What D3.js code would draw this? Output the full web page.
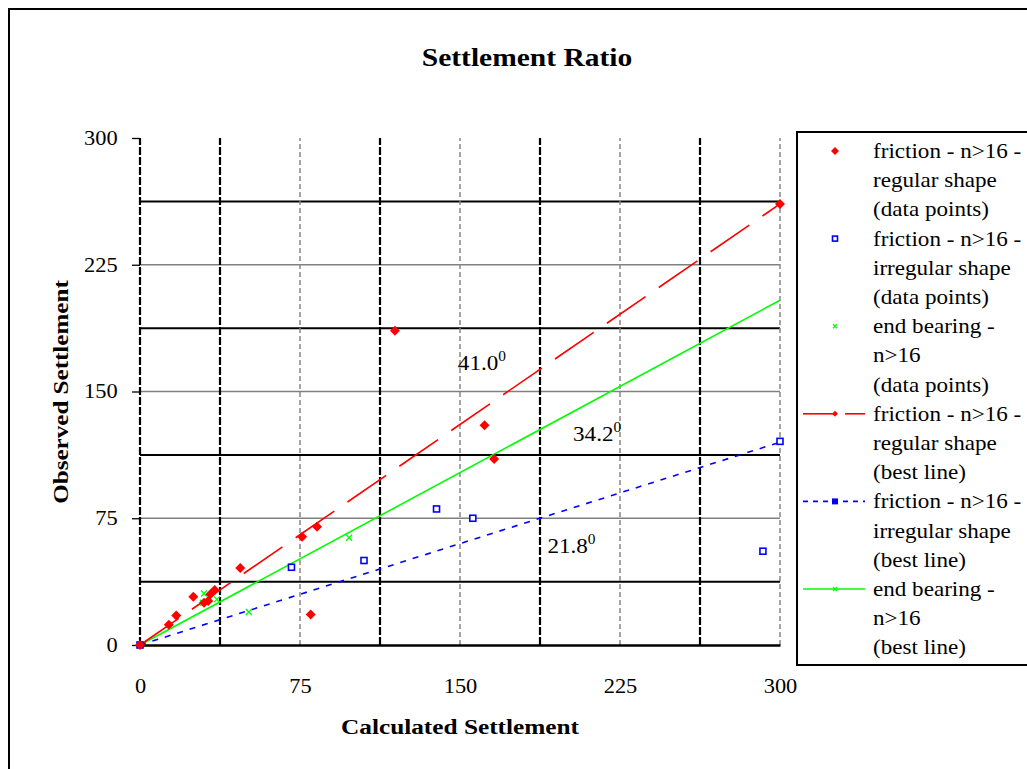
<!DOCTYPE html>
<html>
<head>
<meta charset="utf-8">
<script src="https://cdn.jsdelivr.net/npm/d3@7"></script>
<style>
  body { margin: 0; background: #fff; }
  svg { display: block; font-family: "Liberation Serif", "Times New Roman", serif; }
</style>
</head>
<body>
<script>
// donnees
const frictionRegular = [[0, 0], [13.5, 12], [17, 17.5], [25, 28.5], [30, 25], [32, 26], [33, 30], [35, 32.5],
  [47, 45.5], [76, 64], [80, 18], [83, 70], [119.5, 186], [161.5, 130], [166, 110], [300, 261]];
const frictionIrregular = [[0, 0], [71, 46], [105, 50], [139, 80.5], [156, 75], [292, 55.5], [300, 120.5]];
const endBearing = [[0, 0], [29.5, 25], [30, 30.5], [36, 27], [51, 19.5], [98, 63.5]];

// droites de meilleur ajustement (extremites)
const lineRegular = [[0, 0], [300, 261]];
const lineIrregular = [[0, 0], [300, 120]];
const lineEndBearing = [[0, 0], [300, 204]];

const angleLabels = [
  { x: 149, y: 163, txt: "41.0" },
  { x: 203, y: 121, txt: "34.2" },
  { x: 191, y: 54.5, txt: "21.8" }
];

const majorTicks = [0, 75, 150, 225, 300];
const gridValues = [0, 37.5, 75, 112.5, 150, 187.5, 225, 262.5, 300];

const legendLabels = [
  ["friction - n>16 -", "regular shape", "(data points)"],
  ["friction - n>16 -", "irregular shape", "(data points)"],
  ["end bearing -", "n>16", "(data points)"],
  ["friction - n>16 -", "regular shape", "(best line)"],
  ["friction - n>16 -", "irregular shape", "(best line)"],
  ["end bearing -", "n>16", "(best line)"]
];

const width = 1027, height = 769;
const svg = d3.select("body").append("svg").attr("width", width).attr("height", height);

// texte un peu etire en largeur comme dans l'original
function texte(g, px, py, str, size, k, anchor) {
  return g.append("text").attr("transform", "translate(" + px + "," + py + ") scale(" + k + ",1)")
    .attr("font-size", size).attr("text-anchor", anchor || "start").text(str);
}

// cadre exterieur
svg.append("path").attr("d", "M9,780 L9,9 L1040,9").attr("fill", "none").attr("stroke", "#000").attr("stroke-width", 2);

const x = d3.scaleLinear().domain([0, 300]).range([140, 780]);
const y = d3.scaleLinear().domain([0, 300]).range([645, 138]);

texte(svg, 527, 66, "Settlement Ratio", 25, 1.18, "middle").attr("font-weight", "bold");

// grille
let gridH = svg.append("g");
gridValues.filter(v => v > 0 && v < 300).forEach((v, i) => {
  let odd = (v / 37.5) % 2 == 1;
  gridH.append("line").attr("x1", x(0)).attr("x2", x(300)).attr("y1", y(v)).attr("y2", y(v))
    .attr("stroke", odd ? "#000" : "#808080").attr("stroke-width", odd ? 2 : 1.3);
});
let gridV = svg.append("g");
gridValues.forEach((v) => {
  let odd = (v / 37.5) % 2 == 1 || v == 0;
  gridV.append("line").attr("x1", x(v)).attr("x2", x(v)).attr("y1", y(0)).attr("y2", y(300))
    .attr("stroke", odd ? "#000" : "#888").attr("stroke-width", odd ? 2.2 : 1.5)
    .attr("stroke-dasharray", odd ? "8,2" : "5,3");
});

// axes
let axeY = svg.append("g").attr("transform", "translate(" + x(0) + ",0)")
  .call(d3.axisLeft(y).tickValues(majorTicks).tickSize(8).tickPadding(12).tickFormat(d3.format("d")));
let axeX = svg.append("g").attr("transform", "translate(0," + y(0) + ")")
  .call(d3.axisBottom(x).tickValues(majorTicks).tickSize(0).tickPadding(34).tickFormat(d3.format("d")));
axeY.select(".domain").remove();
axeX.select(".domain").attr("stroke-width", 2.5);
svg.selectAll(".tick text").attr("font-size", 20).attr("font-family", "Liberation Serif").attr("fill", "#000")
  .attr("transform", "scale(1.12,1)");
axeY.selectAll(".tick line").attr("stroke-width", 1.3);

texte(svg, 460, 734, "Calculated Settlement", 22, 1.15, "middle").attr("font-weight", "bold");
svg.append("text").attr("transform", "translate(68,392) rotate(-90) scale(1.14,1)").attr("text-anchor", "middle")
  .attr("font-size", 22).attr("font-weight", "bold").text("Observed Settlement");

// droites
const ligne = d3.line().x(d => x(d[0])).y(d => y(d[1]));
svg.append("path").datum(lineEndBearing).attr("d", ligne).attr("fill", "none")
  .attr("stroke", "#00ff00").attr("stroke-width", 1.6);
svg.append("path").datum(lineIrregular).attr("d", ligne).attr("fill", "none")
  .attr("stroke", "#0000ff").attr("stroke-width", 1.6).attr("stroke-dasharray", "6,7");
svg.append("path").datum(lineRegular).attr("d", ligne).attr("fill", "none")
  .attr("stroke", "#ff0000").attr("stroke-width", 1.6).attr("stroke-dasharray", "47,16");

// symboles
function diamant(g, cx, cy, s) {
  g.append("path").attr("d", "M" + cx + "," + (cy - s) + " L" + (cx + s) + "," + cy + " L" + cx + "," + (cy + s) + " L" + (cx - s) + "," + cy + "Z")
    .attr("fill", "#ff0000");
}
function carre(g, cx, cy, s) {
  g.append("rect").attr("x", cx - s).attr("y", cy - s).attr("width", 2 * s).attr("height", 2 * s)
    .attr("fill", "#fff").attr("stroke", "#0000ff").attr("stroke-width", 1.6);
}
function croix(g, cx, cy, s) {
  g.append("path").attr("d", "M" + (cx - s) + "," + (cy - s) + " L" + (cx + s) + "," + (cy + s) + " M" + (cx + s) + "," + (cy - s) + " L" + (cx - s) + "," + (cy + s))
    .attr("stroke", "#00ff00").attr("stroke-width", 1.3);
}

let points = svg.append("g");
endBearing.forEach(d => croix(points, x(d[0]), y(d[1]), 3));
frictionIrregular.forEach(d => carre(points, x(d[0]), y(d[1]), 3));
frictionRegular.forEach(d => diamant(points, x(d[0]), y(d[1]), 5));

// etiquettes des angles
angleLabels.forEach(a => {
  let t = texte(svg, x(a.x), y(a.y), a.txt, 21, 1.1);
  t.append("tspan").attr("dy", -9).attr("font-size", 14).text("0");
});

// legende
let leg = svg.append("g");
leg.append("rect").attr("x", 797).attr("y", 132).attr("width", 260).attr("height", 533)
  .attr("fill", "#fff").attr("stroke", "#000").attr("stroke-width", 2);
legendLabels.forEach((lab, i) => {
  let y0 = 151 + i * 87.6;
  lab.forEach((l, j) => {
    texte(leg, 873, y0 + j * 29.2 + 7, l, 21, 1.1);
  });
  if (i == 0) diamant(leg, 835, y0, 4);
  if (i == 1) carre(leg, 835, y0, 2.5);
  if (i == 2) croix(leg, 835, y0, 2);
  if (i == 3) {
    leg.append("line").attr("x1", 803).attr("x2", 835).attr("y1", y0).attr("y2", y0).attr("stroke", "#ff0000").attr("stroke-width", 1.6);
    leg.append("line").attr("x1", 845).attr("x2", 865).attr("y1", y0).attr("y2", y0).attr("stroke", "#ff0000").attr("stroke-width", 1.6);
    diamant(leg, 835, y0, 3);
  }
  if (i == 4) {
    leg.append("line").attr("x1", 803).attr("x2", 865).attr("y1", y0).attr("y2", y0).attr("stroke", "#0000ff")
      .attr("stroke-width", 1.6).attr("stroke-dasharray", "5,5");
    leg.append("rect").attr("x", 832).attr("y", y0 - 3).attr("width", 6).attr("height", 6).attr("fill", "#0000ff");
  }
  if (i == 5) {
    leg.append("line").attr("x1", 803).attr("x2", 865).attr("y1", y0).attr("y2", y0).attr("stroke", "#00ff00").attr("stroke-width", 1.6);
    croix(leg, 835, y0, 2);
  }
});
</script>
</body>
</html>
